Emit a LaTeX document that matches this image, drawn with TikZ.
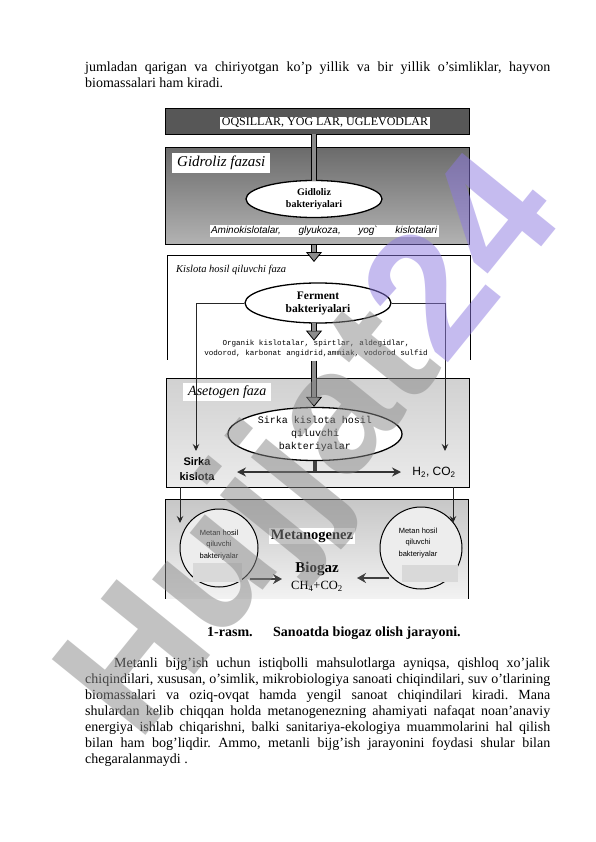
\documentclass[tikz,border=0pt]{standalone}
\usepackage{fontspec}
\setmainfont{Liberation Serif}
\newfontfamily\sansf{Liberation Sans}
\newfontfamily\monof{Liberation Mono}
\usetikzlibrary{shapes.geometric,arrows.meta,calc}
\definecolor{wmgray}{RGB}{135,135,135}
\definecolor{wmpurple}{RGB}{140,120,225}
\newcommand\fs[2]{\fontsize{#1}{#2}\selectfont}
\newcommand\blkarr[2]{%
  \draw[line width=6pt, -{Triangle[length=10pt,width=16pt,line width=0.8pt,fill=black!45]}] #1 -- #2;
  \draw[line width=3.8pt, draw=black!45, shorten >=10pt] #1 -- #2;}
\frenchspacing
\begin{document}
\begin{tikzpicture}[x=1pt,y=-1pt,
  thinarr/.style={line width=0.9pt, draw=black!85, -{Stealth[length=7pt,width=6.5pt,inset=2.5pt]}},
  fatarr/.style={line width=2.6pt, draw=black!75, -{Stealth[length=9pt,width=10pt,inset=3pt]}},
  dblarr/.style={line width=2.2pt, draw=black!80, {Stealth[length=9pt,width=9pt,inset=3pt]}-{Stealth[length=9pt,width=9pt,inset=3pt]}},
  pipeo/.style={line width=6pt, draw=black},
  pipei/.style={line width=3.6pt, draw=black!45},
  bodytxt/.style={anchor=base west, inner sep=0pt, font=\fs{14}{16}},
  bact/.style={ellipse, draw=black, line width=1.3pt, fill=white, inner sep=0pt, align=center},
  whitelbl/.style={fill=white, inner sep=2pt},
  phasebox/.style={anchor=north west, inner sep=0pt, line width=0.8pt},
]
\useasboundingbox (0,0) rectangle (596,842);
\fill[white] (0,0) rectangle (596,842);

% ---------- text above ----------
\node[bodytxt] (t1) at (85,72) {\makebox[465pt][s]{jumladan qarigan va chiriyotgan ko’p yillik va bir yillik o’simliklar, hayvon}};
\node[bodytxt] (t2) at (85,88) {biomassalari ham kiradi.};

% ---------- phase boxes ----------
\node[phasebox, draw=black, line width=1pt, fill=black!66, minimum width=304pt, minimum height=26pt] (topbar) at (165,108) {};
\node[phasebox, draw=black, top color=black!58, bottom color=black!30, minimum width=304pt, minimum height=97pt] (gbox) at (165,147) {};
\node[phasebox, minimum width=303pt, minimum height=104pt] (kbox) at (167,255) {};
\draw[line width=0.8pt] (kbox.south west) -- (kbox.north west) -- (kbox.north east) -- (kbox.south east);
\node[phasebox, draw=black, top color=black!18, bottom color=black!8, minimum width=303pt, minimum height=109pt] (abox) at (166,378) {};
\node[phasebox, top color=black!22, bottom color=black!5, minimum width=303pt, minimum height=99pt] (mbox) at (165,499) {};
\draw[line width=0.8pt] (mbox.south west) -- (mbox.north west) -- (mbox.north east) -- (mbox.south east);

% ---------- labels and bacteria ----------
\node[whitelbl, inner sep=1.5pt, font=\fs{12}{12}] (toplbl) at (325,123) {OQSILLAR, YOG LAR, UGLEVODLAR};
\node[whitelbl, anchor=west, inner xsep=5pt, minimum height=20pt, font=\fs{15}{15}\itshape] (glbl) at (172,163) {Gidroliz fazasi};
\node[bact, minimum width=136pt, minimum height=37pt, font=\fs{10}{12}\bfseries] (gell) at (314,199) {Gidloliz\\bakteriyalari};
\node[whitelbl, inner sep=1.5pt, font=\sansf\itshape\fs{10}{10}] (amino) at (324,231) {\makebox[226pt][s]{Aminokislotalar, glyukoza, yog\symbol{"60} kislotalari}};

\node[anchor=west, inner sep=0pt, font=\fs{10.5}{10.5}\itshape] (klbl) at (176,270) {Kislota hosil qiluvchi faza};
\node[bact, minimum width=146pt, minimum height=40pt, font=\fs{11.5}{13}\bfseries] (fell) at (318,303) {Ferment\\bakteriyalari};
\node[inner sep=0pt, align=center, font=\monof\fs{7.6}{10}] (org) at (316,349) {Organik kislotalar, spirtlar, aldegidlar,\\vodorod, karbonat angidrid,ammiak, vodorod sulfid};

\node[whitelbl, anchor=west, inner xsep=5pt, minimum height=18pt, font=\fs{14}{14}\itshape] (albl) at (183,392) {Asetogen faza};
\node[bact, minimum width=174pt, minimum height=53pt, font=\monof\fs{10}{13}] (sell) at (315,434) {Sirka kislota hosil\\qiluvchi\\bakteriyalar};
\node[inner sep=0pt, align=center, font=\sansf\bfseries\fs{11}{15}] (sk) at (197,469) {Sirka\\kislota};
\node[inner sep=0pt, font=\sansf\fs{12}{12}] (hc) at (434,472) {H\textsubscript{2}, CO\textsubscript{2}};

\node[circle, draw=black, line width=1pt, fill=black!7, minimum size=78pt, inner sep=0pt] (lc) at (219,548) {};
\node[circle, draw=black, line width=1pt, fill=black!7, minimum size=82pt, inner sep=0pt] (rc) at (421,548) {};
\fill[black!15] (193,563) rectangle (242,582);
\fill[black!15] (402,565) rectangle (458,582);
\node[inner sep=0pt, align=center, font=\sansf\fs{7.5}{11.5}] (lct) at (219,545) {Metan hosil\\qiluvchi\\bakteriyalar};
\node[inner sep=0pt, align=center, font=\sansf\fs{7.5}{11.5}] (rct) at (418,543) {Metan hosil\\qiluvchi\\bakteriyalar};
\node[whitelbl, font=\fs{14.5}{14.5}\bfseries] (mlbl) at (312,536) {Metanogenez};
\node[inner sep=0pt, font=\fs{15}{15}\bfseries] (bio) at (317,569) {Biogaz};
\node[inner sep=0pt, font=\fs{12.5}{12.5}] (ch) at (317,586) {CH\textsubscript{4}+CO\textsubscript{2}};

% ---------- coordinates ----------
\coordinate (lcol) at (196,451);
\coordinate (rcol) at (445,451);
\coordinate (hL) at (237,472);
\coordinate (hR) at (401,472);
\coordinate (la1) at (250,579);
\coordinate (la2) at (282,579);
\coordinate (ra1) at (389,578);
\coordinate (ra2) at (357,578);
\coordinate (sa1) at (180,487);
\coordinate (sa2) at (180,523);
\coordinate (sb1) at (453,487);
\coordinate (sb2) at (453,523);

% ---------- connectors ----------
\draw[pipeo] (topbar.south -| gell.north) -- (gell.north);
\draw[pipei] ($(topbar.south -| gell.north)+(0,-1)$) -- ($(gell.north)+(0,1)$);
\blkarr{(gbox.south -| gell.south)}{($(kbox.north -| gell.south)+(0,7)$)}
\blkarr{($(fell.south -| gell.south)+(0,-1)$)}{($(fell.south -| gell.south)+(0,17)$)}
\blkarr{($(org.south -| gell.south)+(0,3)$)}{(sell.north -| gell.south)}
\draw[thinarr] (fell.west) -| (lcol);
\draw[thinarr] (fell.east) -| (rcol);
\draw[line width=3.5pt, draw=black!75] (sell.south) -- (sell.south |- hL);
\draw[dblarr] (hL) -- (hR);
\draw[thinarr] (sa1) -- (sa2);
\draw[thinarr] (sb1) -- (sb2);
\draw[fatarr] (la1) -- (la2);
\draw[fatarr] (ra1) -- (ra2);

% ---------- caption and text ----------
\node[anchor=base west, inner sep=0pt, font=\fs{14}{16}\bfseries] (cap1) at (207,636) {1-rasm.};
\node[anchor=base west, inner sep=0pt, font=\fs{14}{16}\bfseries] (cap2) at (273,636) {Sanoatda biogaz olish jarayoni.};

\node[bodytxt] (p1) at (114,667) {\makebox[436pt][s]{Metanli bijg’ish uchun istiqbolli mahsulotlarga ayniqsa, qishloq xo’jalik}};
\node[bodytxt] (p2) at (85,683.1) {\makebox[465pt][s]{chiqindilari, xususan, o’simlik, mikrobiologiya sanoati chiqindilari, suv o’tlarining}};
\node[bodytxt] (p3) at (85,699.2) {\makebox[465pt][s]{biomassalari va oziq-ovqat hamda yengil sanoat chiqindilari kiradi. Mana}};
\node[bodytxt] (p4) at (85,715.3) {\makebox[465pt][s]{shulardan kelib chiqqan holda metanogenezning ahamiyati nafaqat noan’anaviy}};
\node[bodytxt] (p5) at (85,731.4) {\makebox[465pt][s]{energiya ishlab chiqarishni, balki sanitariya-ekologiya muammolarini hal qilish}};
\node[bodytxt] (p6) at (85,747.5) {\makebox[465pt][s]{bilan ham bog’liqdir. Ammo, metanli bijg’ish jarayonini foydasi shular bilan}};
\node[bodytxt] (p7) at (85,763.6) {chegaralanmaydi .};

% ---------- watermark ----------
\node[rotate=51, anchor=base west, inner sep=0pt, text opacity=0.5, font=\sansf\bfseries\fs{175}{175}] (wm) at (138,745) {\textcolor{wmgray}{Hujjat}\textcolor{wmpurple}{24}};
\end{tikzpicture}
\end{document}
